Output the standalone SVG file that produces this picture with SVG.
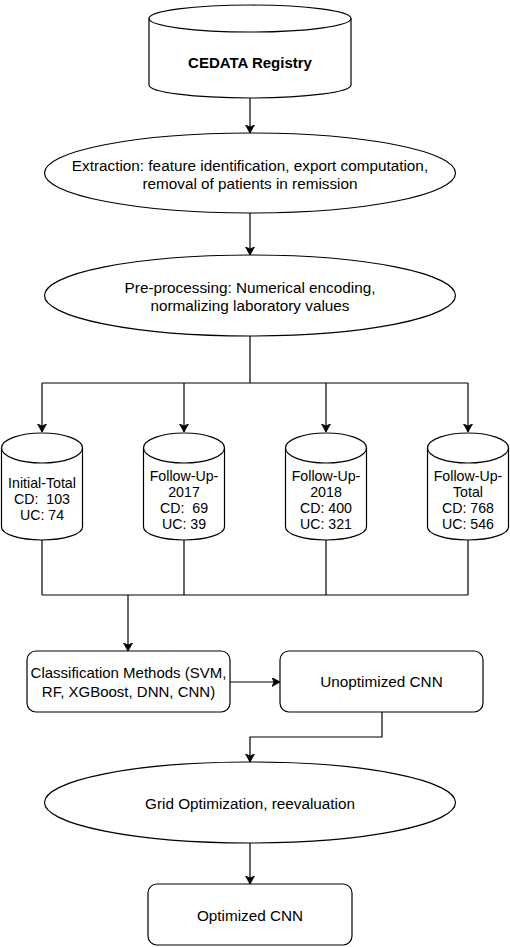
<svg xmlns="http://www.w3.org/2000/svg" width="510" height="947" viewBox="0 0 510 947">
<style>
.s{fill:#fff;stroke:#000;stroke-width:1.2}
.c{fill:none;stroke:#000;stroke-width:1.2}
text{font-family:"Liberation Sans",Arial,sans-serif;font-size:15.3px;fill:#000;text-anchor:middle}
.b{font-weight:bold;font-size:15px}
.cy text{font-size:14.2px}
.cl{font-size:15px}
</style>
<defs>
<marker id="a" markerUnits="userSpaceOnUse" markerWidth="10" markerHeight="10" refX="8" refY="4.5" orient="auto" viewBox="0 0 10 10">
<path d="M0,0 L8,4.5 L0,9 L2,4.5 Z" fill="#000" stroke="#000" stroke-width="0.8"/>
</marker>
</defs>
<rect width="510" height="947" fill="#fff"/>
<g id="connectors">
<path class="c" d="M250,98 V133" marker-end="url(#a)"/>
<path class="c" d="M250,213 V255" marker-end="url(#a)"/>
<path class="c" d="M250,336 V383 M42,383 H468"/>
<path class="c" d="M42,383 V432" marker-end="url(#a)"/>
<path class="c" d="M184,383 V432" marker-end="url(#a)"/>
<path class="c" d="M326,383 V432" marker-end="url(#a)"/>
<path class="c" d="M468,383 V432" marker-end="url(#a)"/>
<path class="c" d="M42,540 V595 M184,540 V595 M326,540 V595 M468,540 V595 M42,595 H468"/>
<path class="c" d="M128,595 V651" marker-end="url(#a)"/>
<path class="c" d="M230,682 H280" marker-end="url(#a)"/>
<path class="c" d="M382,712 V737 H250 V762" marker-end="url(#a)"/>
<path class="c" d="M250,843 V884" marker-end="url(#a)"/>
</g>
<g id="cedata">
<path class="s" d="M149,18.5 A101,13.5 0 0 1 351,18.5 V85 A101,13 0 0 1 149,85 Z"/>
<path class="c" d="M149,18.5 A101,13.5 0 0 0 351,18.5"/>
<text class="b" x="250" y="68">CEDATA Registry</text>
</g>
<g id="extraction">
<ellipse class="s" cx="250" cy="173" rx="205.5" ry="40"/>
<text x="250" y="171">Extraction: feature identification, export computation,</text>
<text x="250" y="188.5">removal of patients in remission</text>
</g>
<g id="preprocessing">
<ellipse class="s" cx="250" cy="295.5" rx="205.5" ry="40.5"/>
<text x="250" y="293">Pre-processing: Numerical encoding,</text>
<text x="250" y="310.5">normalizing laboratory values</text>
</g>
<g id="initial-total" class="cy">
<path class="s" d="M1.5,448 A40.5,15 0 0 1 82.5,448 V527 A40.5,13 0 0 1 1.5,527 Z"/>
<path class="c" d="M1.5,448 A40.5,15 0 0 0 82.5,448"/>
<text x="42" y="488">Initial-Total</text>
<text x="42" y="504" xml:space="preserve">CD:  103</text>
<text x="42" y="520">UC: 74</text>
</g>
<g id="followup-2017" class="cy">
<path class="s" d="M143.5,448 A40.5,15 0 0 1 224.5,448 V527 A40.5,13 0 0 1 143.5,527 Z"/>
<path class="c" d="M143.5,448 A40.5,15 0 0 0 224.5,448"/>
<text x="184" y="481">Follow-Up-</text>
<text x="184" y="497">2017</text>
<text x="184" y="513" xml:space="preserve">CD:  69</text>
<text x="184" y="529">UC: 39</text>
</g>
<g id="followup-2018" class="cy">
<path class="s" d="M285.5,448 A40.5,15 0 0 1 366.5,448 V527 A40.5,13 0 0 1 285.5,527 Z"/>
<path class="c" d="M285.5,448 A40.5,15 0 0 0 366.5,448"/>
<text x="326" y="481">Follow-Up-</text>
<text x="326" y="497">2018</text>
<text x="326" y="513">CD: 400</text>
<text x="326" y="529">UC: 321</text>
</g>
<g id="followup-total" class="cy">
<path class="s" d="M427.5,448 A40.5,15 0 0 1 508.5,448 V527 A40.5,13 0 0 1 427.5,527 Z"/>
<path class="c" d="M427.5,448 A40.5,15 0 0 0 508.5,448"/>
<text x="468" y="481">Follow-Up-</text>
<text x="468" y="497">Total</text>
<text x="468" y="513">CD: 768</text>
<text x="468" y="529">UC: 546</text>
</g>
<g id="classification">
<rect class="s" x="27" y="651" width="203" height="61" rx="9"/>
<text class="cl" x="128.5" y="678">Classification Methods (SVM,</text>
<text class="cl" x="128.5" y="696.5">RF, XGBoost, DNN, CNN)</text>
</g>
<g id="unoptimized">
<rect class="s" x="280" y="651" width="203" height="61" rx="9"/>
<text x="381.5" y="687">Unoptimized CNN</text>
</g>
<g id="grid">
<ellipse class="s" cx="250" cy="802.5" rx="205.5" ry="40.5"/>
<text x="250" y="809">Grid Optimization, reevaluation</text>
</g>
<g id="optimized">
<rect class="s" x="148" y="884" width="204" height="61" rx="9"/>
<text x="250" y="921">Optimized CNN</text>
</g>
</svg>
